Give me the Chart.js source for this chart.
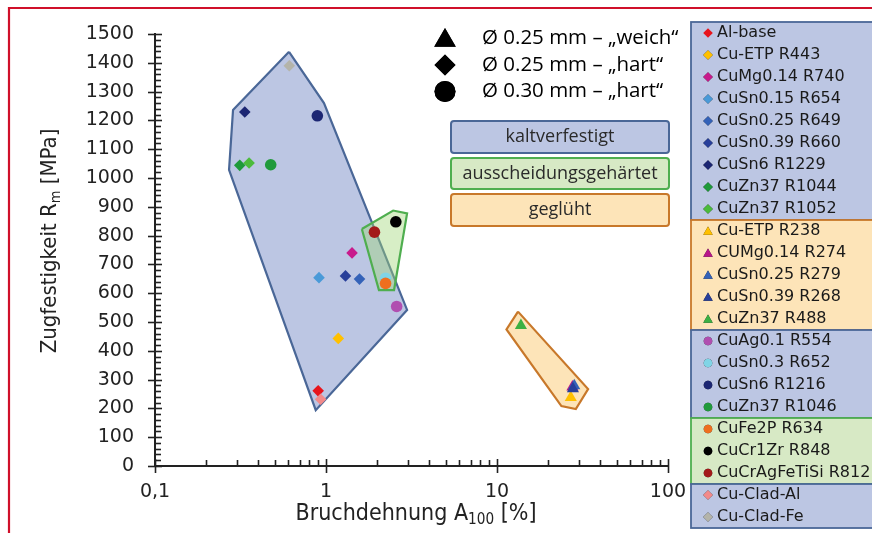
<!DOCTYPE html>
<html><head><meta charset="utf-8">
<script src="https://cdn.jsdelivr.net/npm/chart.js@4.4.0/dist/chart.umd.min.js"></script>
<style>html,body{margin:0;padding:0;background:#fff;overflow:hidden}#wrap{width:872px;height:533px;position:relative}</style>
</head><body><div id="wrap"><canvas id="c" width="872" height="533"></canvas></div>
<script>
// ---- data ----
const seriesNames = ['Al-base','Cu-ETP R443','CuMg0.14 R740','CuSn0.15 R654','CuSn0.25 R649','CuSn0.39 R660','CuSn6 R1229','CuZn37 R1044','CuZn37 R1052',
  'Cu-ETP R238','CUMg0.14 R274','CuSn0.25 R279','CuSn0.39 R268','CuZn37 R488',
  'CuAg0.1 R554','CuSn0.3 R652','CuSn6 R1216','CuZn37 R1046',
  'CuFe2P R634','CuCr1Zr R848','CuCrAgFeTiSi R812',
  'Cu-Clad-Al','Cu-Clad-Fe'];
const elongation = [0.90,1.18,1.42,0.91,1.57,1.30,0.335,0.313,0.355,
  27.0,27.6,28.3,27.8,13.8,
  2.59,2.23,0.89,0.475,
  2.23,2.56,1.92,
  0.93,0.61];
const tensile = [261,443,740,654,649,660,1229,1044,1052,
  238,274,279,268,488,
  554,652,1216,1046,
  634,848,812,
  232,1390];
const markerShapes = ['rectRot','rectRot','rectRot','rectRot','rectRot','rectRot','rectRot','rectRot','rectRot',
  'triangle','triangle','triangle','triangle','triangle',
  'circle','circle','circle','circle',
  'circle','circle','circle',
  'rectRot','rectRot'];
const markerColours = ['#e8141c','#ffc000','#c81a8c','#4a9ad8','#3462b8','#283f9a','#1c2673','#1f9a3a','#4cbb3c',
  '#ffc000','#b8168a','#3462b8','#283f9a','#3cb043',
  '#b04fb0','#80d4e6','#1c2673','#219a3c',
  '#ee6f1e','#000000','#a31a1a',
  '#f28a8a','#b4b4aa'];
// legend sections: last row index (exclusive) and region type
const legendSectionEnds = [9, 14, 18, 21, 23];
const legendSectionRegion = [0, 2, 0, 1, 0];

const regionNames = ['kaltverfestigt','ausscheidungsgehärtet','geglüht'];
const kaltX = [0.608,0.973,2.98,0.871,0.271,0.286];
const kaltY = [1438,1260,542,194,1028,1236];
const ausX = [1.62,2.47,2.98,2.50,2.04];
const ausY = [823,887,877,611,611];
const gegX = [13.27,11.36,23.8,28.9,34.1];
const gegY = [536,474,208,198,267];

const diameterLabels = ['Ø 0.25 mm – „weich“','Ø 0.25 mm – „hart“','Ø 0.30 mm – „hart“'];
const diameterShapes = ['triangle','rectRot','circle'];

const xTickValues = [0.1, 1, 10, 100];
const xTickLabels = ['0,1','1','10','100'];

// ---- styles ----
const regionFill = ['#bcc6e3','rgba(160,215,120,0.42)','#fde4b8'];
const regionStroke = ['#4a6797','#4fae4f','#c8782a'];
const legendFill = ['#bcc6e3','#d7e9c5','#fde4b8'];

function poly(xs, ys){ const p = xs.map((x,i)=>({x, y: ys[i]})); p.push({x: xs[0], y: ys[0]}); return p; }

const datasets = [];
seriesNames.forEach((n,i)=>{
  const r = markerShapes[i]==='triangle' ? 7 : 5.8;
  datasets.push({label:n, data:[{x:elongation[i], y:tensile[i]}], pointStyle:markerShapes[i],
    pointRadius:r, pointHoverRadius:r, backgroundColor:markerColours[i], borderColor:markerColours[i], borderWidth:0, order:-i});
});
[[kaltX,kaltY,0,103],[gegX,gegY,2,102],[ausX,ausY,1,101]].forEach(([xs,ys,k,o])=>{
  datasets.push({label:regionNames[k], data:poly(xs,ys), showLine:true, fill:'shape', tension:0,
    backgroundColor:regionFill[k], borderColor:regionStroke[k], borderWidth:2.2, pointRadius:0, pointHoverRadius:0, order:o});
});

const fontTick = {family:'DejaVu Sans', size:19};

const decorPlugin = {
  id:'decor',
  beforeDraw(chart){ const c=chart.ctx; c.save(); c.fillStyle='#fff'; c.fillRect(0,0,chart.width,chart.height); c.restore(); },
  afterDraw(chart){
    const c = chart.ctx, xs = chart.scales.x, ys = chart.scales.y, H = Chart.helpers;
    const L = chart.chartArea.left, B = chart.chartArea.bottom;
    c.save();
    // tick marks
    c.strokeStyle='#222'; c.lineWidth=1.6;
    for(let v=0; v<=1500; v+=20){
      const py = Math.round(ys.getPixelForValue(v))+0.5;
      c.beginPath();
      if(v%100===0){ c.moveTo(L-7,py); c.lineTo(L+7,py); } else { c.moveTo(L,py); c.lineTo(L+6,py); }
      c.stroke();
    }
    for(let e=-1; e<=2; e++){
      for(let k=1;k<=9;k++){
        const v = k*Math.pow(10,e); if(v>100.0001) break;
        const px = Math.round(xs.getPixelForValue(v))+0.5;
        c.beginPath();
        if(k===1){ c.moveTo(px,B-7); c.lineTo(px,B+7); } else { c.moveTo(px,B-6); c.lineTo(px,B); }
        c.stroke();
      }
    }
    // axis titles with subscripts
    function subText(parts, x, y, size){
      let w=0; parts.forEach(p=>{ c.font=(p[1]?size*0.66:size)+'px "DejaVu Sans Condensed"'; w+=c.measureText(p[0]).width; });
      let cx = x - w/2;
      parts.forEach(p=>{ const s=p[1]?size*0.66:size; c.font=s+'px "DejaVu Sans Condensed"'; c.fillText(p[0], cx, y + (p[1]? size*0.28:0)); cx += c.measureText(p[0]).width; });
    }
    c.fillStyle='#222'; c.textBaseline='middle'; c.textAlign='left';
    subText([['Bruchdehnung A',0],['100',1],[' [%]',0]], 416, 514, 23);
    c.save(); c.translate(50,241); c.rotate(-Math.PI/2);
    subText([['Zugfestigkeit R',0],['m',1],[' [MPa]',0]], 0, 0, 22);
    c.restore();
    // diameter legend
    const rowsY=[38.5,65,91.5];
    diameterShapes.forEach((s,i)=>{
      const rad = s==='triangle'?12.5:10.5;
      H.drawPoint(c,{pointStyle:s, radius:rad, rotation:0, borderWidth:0}, 445, rowsY[i] + (s==='triangle'?2:0));
      c.fillStyle='#000'; c.fill();
      c.font='20.5px "Open Sans"'; c.textAlign='left'; c.textBaseline='middle';
      c.fillText(diameterLabels[i], 482, rowsY[i]);
    });
    // region category boxes
    const boxY=[[121,153],[158,189],[194,226]];
    regionNames.forEach((n,i)=>{
      c.beginPath(); c.roundRect(451, boxY[i][0], 218, boxY[i][1]-boxY[i][0], 3);
      c.fillStyle = legendFill[i]; c.fill(); c.lineWidth=2; c.strokeStyle=regionStroke[i]; c.stroke();
      c.fillStyle='#2a2a2a'; c.font='18px "Open Sans"'; c.textAlign='center'; c.textBaseline='middle';
      c.fillText(n, 560, (boxY[i][0]+boxY[i][1])/2);
    });
    // series legend with coloured sections
    const top0=22, rowH=22, lx=691;
    let start=0;
    legendSectionEnds.forEach((end,si)=>{
      const k = legendSectionRegion[si];
      c.fillStyle=legendFill[k]; c.fillRect(lx, top0+start*rowH, 200, (end-start)*rowH);
      c.lineWidth=1.8; c.strokeStyle=regionStroke[k]; c.strokeRect(lx, top0+start*rowH, 200, (end-start)*rowH);
      start=end;
    });
    seriesNames.forEach((n,i)=>{
      const y = top0 + rowH*i + 11;
      const s = markerShapes[i];
      H.drawPoint(c,{pointStyle:s, radius: s==='triangle'?5.5:(s==='circle'?4.3:4.8), rotation:0, borderWidth:0}, 708, y+(s==='triangle'?1:0));
      c.fillStyle=markerColours[i]; c.fill();
      c.fillStyle='#1a1a1a'; c.font='16px "DejaVu Sans"'; c.textAlign='left'; c.textBaseline='middle';
      c.fillText(n, 717, y);
    });
    // red frame
    c.strokeStyle='#d0102a'; c.lineWidth=2.2;
    c.beginPath(); c.moveTo(9,533); c.lineTo(9,8); c.lineTo(872,8); c.stroke();
    c.restore();
  }
};

new Chart(document.getElementById('c'), {
  type:'scatter',
  data:{datasets},
  options:{
    responsive:false, animation:false, events:[],
    layout:{padding:{left:0, top:34, right:204, bottom:0}},
    plugins:{legend:{display:false}, tooltip:{enabled:false}, filler:{drawTime:'beforeDatasetDraw'}},
    scales:{
      x:{type:'logarithmic', min:0.1, max:100,
        afterFit(s){ s.height = 533-466; },
        grid:{display:true, drawOnChartArea:false, drawTicks:false},
        border:{display:true, color:'#222', width:2},
        ticks:{autoSkip:false, maxRotation:0, padding:15, color:'#222', font:fontTick,
          callback(v){ const i = xTickValues.findIndex(t=>Math.abs(t-v)<1e-9*Math.max(1,v)); return i>=0 ? xTickLabels[i] : null; }}
      },
      y:{type:'linear', min:0, max:1500,
        afterFit(s){ s.width = 155; },
        grid:{display:true, drawOnChartArea:false, drawTicks:false},
        border:{display:true, color:'#222', width:2},
        ticks:{stepSize:100, padding:21, color:'#222', font:fontTick, callback(v){ return String(v); }}
      }
    }
  },
  plugins:[decorPlugin]
});
</script></body></html>
